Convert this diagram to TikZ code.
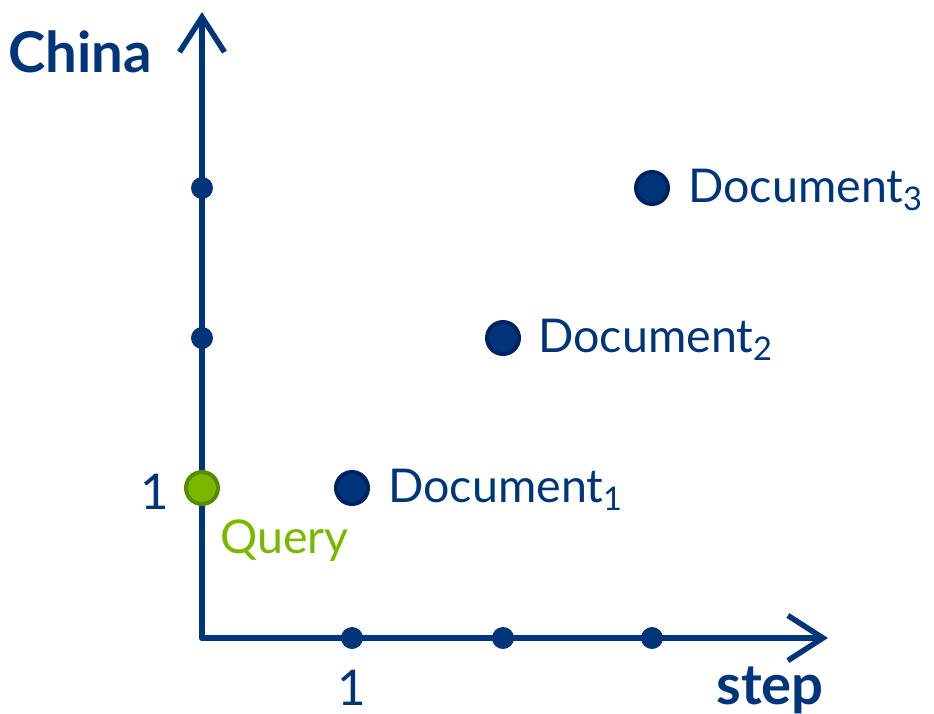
\documentclass[tikz,border=0pt]{standalone}
\usepackage{fontspec}
\setmainfont{Lato}
\usetikzlibrary{arrows.meta}
\definecolor{navy}{HTML}{00357A}
\definecolor{navydark}{HTML}{002260}
\definecolor{lime}{HTML}{7AB800}
\definecolor{limedark}{HTML}{5A8A00}
\tikzstyle{axis}=[line width=0.11cm, draw=navy, line cap=round, -{Straight Barb[length=0.7cm,width=0.9cm,line width=0.11cm]}]
\tikzstyle{tick}=[circle, fill=navy, minimum size=0.44cm, inner sep=0pt]
\tikzstyle{doc}=[circle, fill=navy, draw=navydark, line width=0.08cm, minimum size=0.64cm, inner sep=0pt]
\tikzstyle{annot}=[text=navy, font=\fontsize{26.5}{30}\selectfont, inner sep=0pt]
\tikzstyle{axlabel}=[text=navy, font=\fontsize{32}{36}\selectfont\bfseries, inner sep=0pt]
\begin{document}
\begin{tikzpicture}[x=0.02cm, y=-0.02cm]
	\useasboundingbox (0,0) rectangle (934,714);

	\coordinate (o) at (202,638);
	\coordinate (ytop) at (202,12);
	\coordinate (xend) at (828,638);

	\draw[axis] (o) -- (ytop);
	\draw[axis] (o) -- (xend);

	\node[tick] (x1) at (352,638){};
	\node[tick] (x2) at (503,638){};
	\node[tick] (x3) at (652,638){};
	\node[tick] (y2) at (202,338){};
	\node[tick] (y3) at (202,188){};

	\node[doc, fill=lime, draw=limedark](query) at (202,488){};
	\node[doc](doc1) at (352,488){};
	\node[doc](doc2) at (503,338){};
	\node[doc](doc3) at (652,188){};

	\node[annot, anchor=west] (doc1lbl) at (388,490){Document\textsubscript{1}};
	\node[annot, anchor=west] (doc2lbl) at (538,340){Document\textsubscript{2}};
	\node[annot, anchor=west] (doc3lbl) at (688,190){Document\textsubscript{3}};
	\node[annot, text=lime, anchor=west] (querylbl) at (220,541){Query};

	\node[axlabel] (one1) at (155,492){\fontsize{28}{32}\selectfont\mdseries 1};
	\node[axlabel] (one2) at (352,688){\fontsize{28}{32}\selectfont\mdseries 1};
	\node[axlabel] (china) at (80,52){China};
	\node[axlabel] (step) at (770,690){step};
\end{tikzpicture}
\end{document}
